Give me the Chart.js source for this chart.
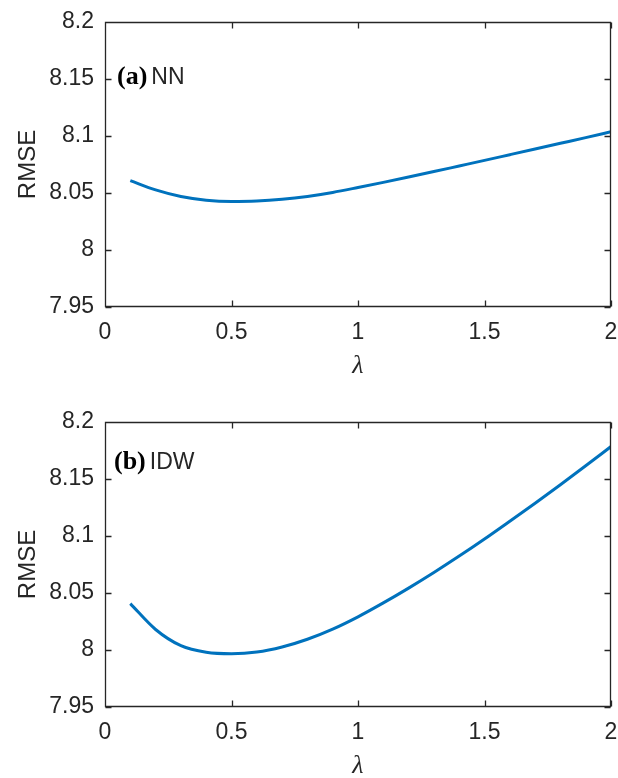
<!DOCTYPE html>
<html>
<head>
<meta charset="utf-8">
<script src="https://cdn.jsdelivr.net/npm/chart.js@4.4.1/dist/chart.umd.min.js"></script>
<style>
  html, body { margin: 0; padding: 0; background: #fff; overflow: hidden; width: 618px; height: 778px; }
  .panel { position: absolute; left: 0; width: 618px; height: 400px; }
</style>
</head>
<body>
<div class="panel" style="top:0px"><canvas id="nn" width="618" height="400"></canvas></div>
<div class="panel" style="top:400px"><canvas id="idw" width="618" height="400"></canvas></div>
<script>
// Regularisation weight lambda and the resulting RMSE for each interpolation method
const lambdaValues = [0.1, 0.2, 0.3, 0.4, 0.5, 0.6, 0.7, 0.8, 0.9, 1.0,
                      1.1, 1.2, 1.3, 1.4, 1.5, 1.6, 1.7, 1.8, 1.9, 2.0];
const rmseNN  = [8.0608, 8.0527, 8.0469, 8.0437, 8.0426, 8.0430, 8.0445, 8.0470, 8.0505, 8.0548,
                 8.0593, 8.0640, 8.0688, 8.0737, 8.0786, 8.0836, 8.0886, 8.0936, 8.0986, 8.1037];
const rmseIDW = [8.0407, 8.0180, 8.0038, 7.9981, 7.9968, 7.9982, 8.0026, 8.0094, 8.0183, 8.0291,
                 8.0413, 8.0543, 8.0680, 8.0824, 8.0974, 8.1130, 8.1288, 8.1450, 8.1616, 8.1785];

// Axis ticks shared by both panels
const xTickValues = [0, 0.5, 1, 1.5, 2];
const yTickValues = [7.95, 8, 8.05, 8.1, 8.15, 8.2];

// Panel captions
const panelTags  = ['(a)', '(b)'];
const panelNames = ['NN', 'IDW'];

const AXIS_COLOR = '#262626';
const LINE_COLOR = '#0072BD';
const SANS = "'Liberation Sans', Arial, Helvetica, sans-serif";
const SERIF = "'Liberation Serif', 'Times New Roman', Times, serif";

// Boxed axes with inward tick marks on all four sides, plus the panel caption
const boxAxes = {
  id: 'boxAxes',
  afterDraw(chart, args, opts) {
    const {ctx, chartArea: a} = chart;
    const xs = chart.scales.x, ys = chart.scales.y;
    const L = Math.round(a.left) + 0.5, R = Math.round(a.right) - 0.5;
    const T = Math.round(a.top) + 0.5, B = Math.round(a.bottom) - 0.5;
    const tl = 6;
    ctx.save();
    ctx.strokeStyle = AXIS_COLOR;
    ctx.lineWidth = 1.3;
    ctx.beginPath();
    ctx.rect(L, T, R - L, B - T);
    xs.ticks.forEach(t => {
      const px = Math.round(xs.getPixelForValue(t.value)) + 0.5;
      ctx.moveTo(px, B); ctx.lineTo(px, B - tl);
      ctx.moveTo(px, T); ctx.lineTo(px, T + tl);
    });
    ys.ticks.forEach(t => {
      const py = Math.round(ys.getPixelForValue(t.value)) + 0.5;
      ctx.moveTo(L, py); ctx.lineTo(L + tl, py);
      ctx.moveTo(R, py); ctx.lineTo(R - tl, py);
    });
    ctx.stroke();

    // caption: bold serif tag followed by the method name
    ctx.fillStyle = '#000';
    ctx.textBaseline = 'alphabetic';
    ctx.textAlign = 'left';
    ctx.font = 'bold 26px ' + SERIF;
    const x0 = a.left + opts.dx, y0 = a.top + opts.dy;
    ctx.fillText(opts.tag, x0, y0);
    const w = ctx.measureText(opts.tag).width;
    ctx.fillStyle = AXIS_COLOR;
    ctx.font = '23px ' + SANS;
    ctx.fillText(opts.name, x0 + w + 4, y0);
    ctx.restore();
  }
};

function makePanel(canvasId, values, idx, cap) {
  const points = lambdaValues.map((l, i) => ({x: l, y: values[i]}));
  return new Chart(document.getElementById(canvasId), {
    type: 'line',
    data: {
      datasets: [{
        data: points,
        borderColor: LINE_COLOR,
        borderWidth: 3,
        pointRadius: 0,
        cubicInterpolationMode: 'monotone',
        fill: false
      }]
    },
    options: {
      responsive: false,
      animation: false,
      devicePixelRatio: 1,
      layout: { padding: { top: 22, right: 7, left: 0, bottom: 0 } },
      plugins: {
        legend: { display: false },
        tooltip: { enabled: false },
        boxAxes: { tag: panelTags[idx], name: panelNames[idx], dx: cap.dx, dy: cap.dy }
      },
      scales: {
        x: {
          type: 'linear',
          min: 0, max: 2,
          grid: { display: false, drawTicks: false },
          border: { display: false },
          afterBuildTicks: s => { s.ticks = xTickValues.map(v => ({value: v})); },
          afterFit: s => { s.height = 93; s.paddingLeft = 0; s.paddingRight = 0; },
          ticks: {
            padding: 12,
            color: AXIS_COLOR,
            font: { family: SANS, size: 23 },
            callback: v => String(+Number(v).toFixed(2))
          },
          title: {
            display: true,
            text: 'λ',
            color: AXIS_COLOR,
            font: { family: SERIF, size: 26, style: 'italic' },
            padding: { top: 0, bottom: 18 }
          }
        },
        y: {
          type: 'linear',
          min: 7.95, max: 8.2,
          grid: { display: false, drawTicks: false },
          border: { display: false },
          afterBuildTicks: s => { s.ticks = yTickValues.map(v => ({value: v})); },
          afterFit: s => { s.width = 105; s.paddingTop = 0; s.paddingBottom = 0; },
          ticks: {
            padding: 11,
            color: AXIS_COLOR,
            font: { family: SANS, size: 23 },
            callback: v => String(+Number(v).toFixed(2))
          },
          title: {
            display: true,
            text: 'RMSE',
            color: AXIS_COLOR,
            font: { family: SANS, size: 24 },
            padding: { top: 13.6, bottom: 0 }
          }
        }
      }
    },
    plugins: [boxAxes]
  });
}

makePanel('nn', rmseNN, 0, {dx: 12, dy: 62});
makePanel('idw', rmseIDW, 1, {dx: 9, dy: 47});
</script>
</body>
</html>
